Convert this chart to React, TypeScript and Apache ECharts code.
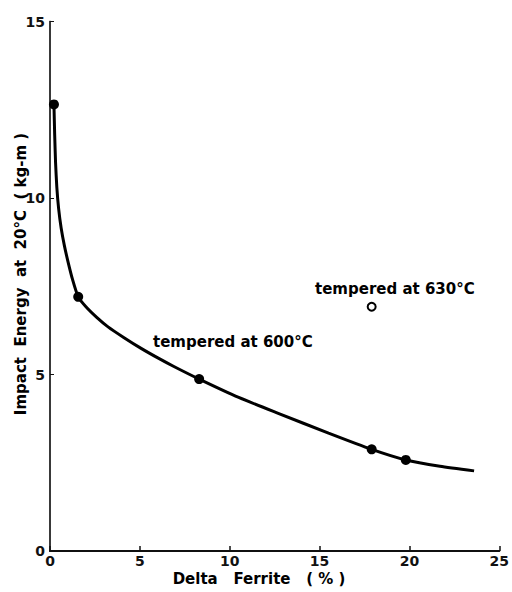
import React, { useEffect, useRef } from "react";
import * as echarts from "echarts";

const xTicks = [0, 5, 10, 15, 20, 25];
const yTicks = [0, 5, 10, 15];

const ferrite600 = [0.22, 1.57, 8.3, 17.9, 19.8];
const energy600 = [12.65, 7.2, 4.87, 2.88, 2.58];

const ferrite630 = [17.9];
const energy630 = [6.92];

const curveFerrite = [0.22, 0.26, 0.31, 0.38, 0.48, 0.62, 0.8, 1.0, 1.25, 1.57, 2.0, 2.6, 3.23, 4.1, 5.07, 6.0, 6.92, 8.3, 10.5, 12.7, 15.5, 17.9, 19.8, 21.7, 23.6];
const curveEnergy = [12.65, 11.8, 11.0, 10.3, 9.7, 9.15, 8.65, 8.2, 7.7, 7.2, 6.92, 6.62, 6.35, 6.05, 5.74, 5.47, 5.22, 4.87, 4.35, 3.9, 3.34, 2.88, 2.58, 2.4, 2.27];

const label600 = "tempered at 600°C";
const label630 = "tempered at 630°C";
const xName = "Delta   Ferrite   ( % )";
const yName = "Impact  Energy  at  20°C  ( kg-m )";

const FONT = "DejaVu Sans";

export default function App() {
  const ref = useRef<HTMLDivElement>(null);
  useEffect(() => {
    if (!ref.current) return;
    const chart = echarts.init(ref.current, null, { renderer: "svg" });
    const pair = (xs: number[], ys: number[]) => xs.map((x, i) => [x, ys[i]]);
    const axisCommon = {
      type: "value" as const,
      min: 0,
      interval: 5,
      splitLine: { show: false },
      axisLine: { show: true, lineStyle: { color: "#111", width: 1.5 } },
    };
    chart.setOption({
      animation: false,
      backgroundColor: "#fff",
      grid: { left: 50, right: 10, top: 21.5, bottom: 41, containLabel: false },
      xAxis: [
        {
          ...axisCommon,
          max: 25,
          position: "bottom",
          axisLine: { show: true, lineStyle: { color: "#111", width: 2 } },
          axisTick: { show: true, inside: true, length: 5, lineStyle: { color: "#111", width: 1.5 } },
          axisLabel: {
            show: true,
            color: "#111",
            fontFamily: FONT,
            fontWeight: "bold",
            fontSize: 14,
            margin: 3,
            customValues: xTicks,
          },
        },
        {
          ...axisCommon,
          max: 25,
          position: "top",
          axisTick: { show: false },
          axisLabel: { show: false },
        },
      ],
      yAxis: [
        {
          ...axisCommon,
          max: 15,
          position: "left",
          axisTick: { show: true, inside: true, length: 4, lineStyle: { color: "#111", width: 1 } },
          axisLabel: {
            show: true,
            color: "#111",
            fontFamily: FONT,
            fontWeight: "bold",
            fontSize: 14,
            margin: 5,
            customValues: yTicks,
          },
        },
        {
          ...axisCommon,
          max: 15,
          position: "right",
          axisLine: { show: true, lineStyle: { color: "#333", width: 1.5 } },
          axisTick: { show: false },
          axisLabel: { show: false },
        },
      ],
      series: [
        {
          type: "line",
          data: pair(curveFerrite, curveEnergy),
          smooth: 0.2,
          symbol: "none",
          lineStyle: { color: "#000", width: 3 },
          z: 2,
        },
        {
          type: "scatter",
          data: pair(ferrite600, energy600),
          symbol: "circle",
          symbolSize: 10,
          itemStyle: { color: "#000", opacity: 1 },
          z: 3,
        },
        {
          type: "scatter",
          data: pair(ferrite630, energy630),
          symbol: "circle",
          symbolSize: 8,
          itemStyle: { color: "#fff", borderColor: "#000", borderWidth: 2, opacity: 1 },
          z: 3,
        },
      ],
      graphic: [
        {
          type: "text",
          x: 153,
          y: 342,
          style: {
            text: label600,
            fill: "#000",
            font: `bold 15px "${FONT}"`,
            textAlign: "left",
            textVerticalAlign: "middle",
          },
        },
        {
          type: "text",
          x: 315,
          y: 289,
          style: {
            text: label630,
            fill: "#000",
            font: `bold 15px "${FONT}"`,
            textAlign: "left",
            textVerticalAlign: "middle",
          },
        },
        {
          type: "text",
          x: 259,
          y: 579,
          style: {
            text: xName,
            fill: "#000",
            font: `bold 15px "${FONT}"`,
            textAlign: "center",
            textVerticalAlign: "middle",
          },
        },
        {
          type: "text",
          x: 21,
          y: 274,
          rotation: Math.PI / 2,
          style: {
            text: yName,
            fill: "#000",
            font: `bold 15px "${FONT}"`,
            textAlign: "center",
            textVerticalAlign: "middle",
          },
        },
      ],
    });
    return () => chart.dispose();
  }, []);
  return <div ref={ref} style={{ width: 512, height: 592, position: "absolute", left: 0, top: 0 }} />;
}
